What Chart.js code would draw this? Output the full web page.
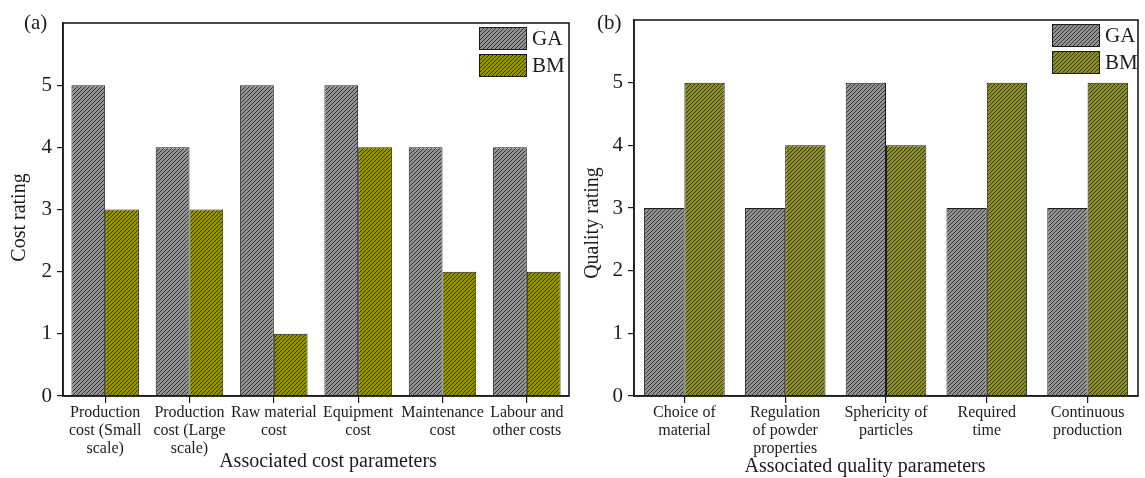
<!DOCTYPE html>
<html>
<head>
<meta charset="utf-8">
<script src="https://cdn.jsdelivr.net/npm/chart.js@4.4.1/dist/chart.umd.min.js"></script>
<style>
  html, body { margin: 0; padding: 0; background: #fff; }
  body { width: 1145px; height: 478px; position: relative; overflow: hidden; }
  .panel { position: absolute; top: 0; }
</style>
</head>
<body>
<div class="panel" style="left:0"><canvas id="costChart" width="575" height="478"></canvas></div>
<div class="panel" style="left:575px"><canvas id="qualityChart" width="570" height="478"></canvas></div>
<script>
// ---- data ----
const seriesNames = ['GA', 'BM'];

const costCategories = [
  ['Production', 'cost (Small', 'scale)'],
  ['Production', 'cost (Large', 'scale)'],
  ['Raw material', 'cost'],
  ['Equipment', 'cost'],
  ['Maintenance', 'cost'],
  ['Labour and', 'other costs']
];
const costGA = [5, 4, 5, 5, 4, 4];
const costBM = [3, 3, 1, 4, 2, 2];

const qualityCategories = [
  ['Choice of', 'material'],
  ['Regulation', 'of powder', 'properties'],
  ['Sphericity of', 'particles'],
  ['Required', 'time'],
  ['Continuous', 'production']
];
const qualityGA = [3, 3, 5, 3, 3];
const qualityBM = [5, 4, 4, 5, 5];

const ratingTicks = [0, 1, 2, 3, 4, 5];

// ---- styling helpers ----
const SERIF = '"Liberation Serif", "Times New Roman", serif';
const INK = '#1c1c1c';

// diagonal "/" hatch on a flat base colour
function hatch(base) {
  const s = 4;
  const c = document.createElement('canvas');
  c.width = s; c.height = s;
  const g = c.getContext('2d');
  g.fillStyle = base;
  g.fillRect(0, 0, s, s);
  g.strokeStyle = 'rgba(30,30,30,0.8)';
  g.lineWidth = 1;
  g.beginPath();
  g.moveTo(-1, s + 1); g.lineTo(s + 1, -1);
  g.moveTo(-1, 1); g.lineTo(1, -1);
  g.moveTo(s - 1, s + 1); g.lineTo(s + 1, s - 1);
  g.stroke();
  return g.createPattern(c, 'repeat');
}
const fillGA = hatch('#929292');
const fillBM = hatch('#929200');

// frame around the plot area, panel tag, axis captions and the legend box
const decorations = {
  id: 'decorations',
  afterDraw(chart, args, opts) {
    const { ctx, chartArea: a } = chart;
    ctx.save();
    ctx.strokeStyle = INK;
    ctx.lineWidth = 1.6;
    ctx.strokeRect(a.left, a.top, a.right - a.left, a.bottom - a.top);

    ctx.fillStyle = INK;
    ctx.font = '21px ' + SERIF;
    ctx.textBaseline = 'middle';
    ctx.textAlign = 'left';
    ctx.fillText(opts.tag, opts.tagX, 23);

    ctx.font = '20px ' + SERIF;
    ctx.textAlign = 'center';
    ctx.fillText(opts.xTitle, (a.left + a.right) / 2 + opts.xTitleDx, opts.xTitleY);

    ctx.save();
    ctx.translate(opts.yTitleX, (a.top + a.bottom) / 2 + opts.yTitleDy);
    ctx.rotate(-Math.PI / 2);
    ctx.fillText(opts.yTitle, 0, 0);
    ctx.restore();

    // legend
    const bx = a.right - opts.legendInset;
    chart.data.datasets.forEach((ds, i) => {
      const by = a.top + 4 + i * 27;
      ctx.fillStyle = ds.backgroundColor;
      ctx.fillRect(bx, by, 48, 23);
      ctx.strokeStyle = INK;
      ctx.lineWidth = 1;
      ctx.strokeRect(bx + 0.5, by + 0.5, 47, 22);
      ctx.fillStyle = INK;
      ctx.textAlign = 'left';
      ctx.font = '21px ' + SERIF;
      ctx.fillText(ds.label, bx + 53, by + 12);
    });
    ctx.restore();
  }
};

function makeChart(id, categories, ga, bm, padRight, yWidth, deco) {
  return new Chart(document.getElementById(id), {
    type: 'bar',
    data: {
      labels: categories,
      datasets: [
        { label: seriesNames[0], data: ga, backgroundColor: fillGA, borderColor: INK, borderWidth: 1 },
        { label: seriesNames[1], data: bm, backgroundColor: fillBM, borderColor: INK, borderWidth: 1 }
      ]
    },
    options: {
      responsive: false,
      animation: false,
      devicePixelRatio: 1,
      layout: { padding: { top: deco.top, right: padRight, left: 0, bottom: 0 } },
      datasets: { bar: { categoryPercentage: 0.8, barPercentage: 1.0 } },
      plugins: {
        legend: { display: false },
        tooltip: { enabled: false },
        decorations: deco
      },
      scales: {
        x: {
          grid: { offset: false, drawOnChartArea: false, drawTicks: true, tickLength: 7, color: INK, lineWidth: 1.2 },
          border: { display: true, color: INK, width: 1.6 },
          ticks: {
            color: INK, padding: 1, maxRotation: 0, autoSkip: false,
            font: { family: SERIF, size: 16, lineHeight: 1.12 }
          },
          afterFit(scale) { scale.height = 478 - 396; }
        },
        y: {
          min: 0, max: 6,
          afterBuildTicks(scale) { scale.ticks = ratingTicks.map(v => ({ value: v })); },
          grid: { drawOnChartArea: false, drawTicks: true, tickLength: 6, color: INK, lineWidth: 1.2 },
          border: { display: true, color: INK, width: 1.6 },
          ticks: { color: INK, padding: 5, font: { family: SERIF, size: 21 } },
          afterFit(scale) { scale.width = yWidth; }
        }
      }
    },
    plugins: [decorations]
  });
}

makeChart('costChart', costCategories, costGA, costBM, 6, 63, {
  top: 23, tag: '(a)', tagX: 24,
  xTitle: 'Associated cost parameters', xTitleDx: 12, xTitleY: 462,
  yTitle: 'Cost rating', yTitleX: 20, yTitleDy: 8,
  legendInset: 90
});
makeChart('qualityChart', qualityCategories, qualityGA, qualityBM, 7, 59, {
  top: 20, tag: '(b)', tagX: 22,
  xTitle: 'Associated quality parameters', xTitleDx: -21, xTitleY: 467,
  yTitle: 'Quality rating', yTitleX: 18, yTitleDy: 15,
  legendInset: 86
});
</script>
</body>
</html>
